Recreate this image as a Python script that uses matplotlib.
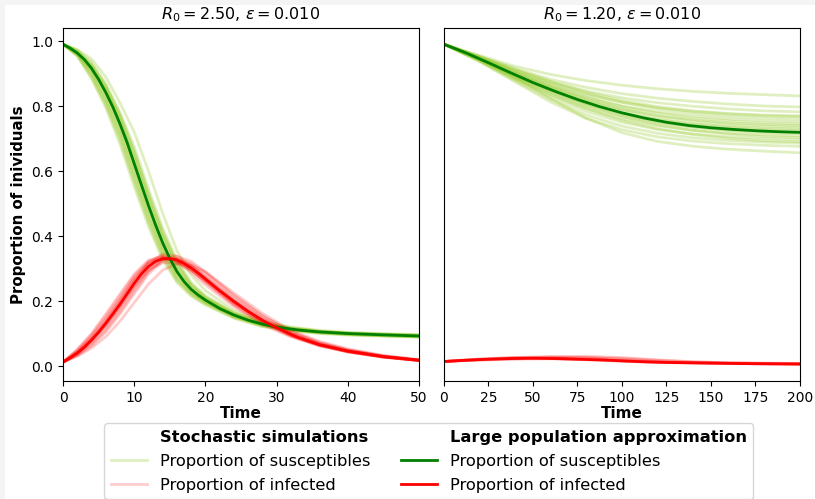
import matplotlib
matplotlib.use("Agg")
import matplotlib.pyplot as plt
from matplotlib.lines import Line2D
from matplotlib.patches import Rectangle

# ---------------- data: left panel (R0 = 2.5) ----------------
t_left_det = [0, 1, 2, 3, 4, 5, 6, 7, 8, 9, 10, 11, 12, 13, 14, 15, 16, 17, 18, 19, 20,
              22, 24, 26, 28, 30, 33, 36, 40, 45, 50]
S_left_det = [0.99, 0.978, 0.963, 0.943, 0.916, 0.882, 0.842, 0.797, 0.745, 0.688, 0.623,
              0.558, 0.494, 0.434, 0.379, 0.331, 0.291, 0.260, 0.236, 0.218, 0.203,
              0.177, 0.157, 0.141, 0.129, 0.120, 0.111, 0.105, 0.100, 0.096, 0.0925]
I_left_det = [0.012, 0.025, 0.040, 0.058, 0.080, 0.104, 0.131, 0.160, 0.190, 0.222, 0.254,
              0.283, 0.306, 0.322, 0.330, 0.331, 0.326, 0.316, 0.302, 0.286, 0.268,
              0.232, 0.199, 0.168, 0.141, 0.118, 0.088, 0.066, 0.046, 0.029, 0.018]

t_left_sim = [0, 2, 4, 6, 8, 10, 12, 14, 16, 18, 20, 24, 28, 32, 36, 40, 45, 50]
S_left_sim_1 = [0.99, 0.972, 0.935, 0.870, 0.780, 0.675, 0.545, 0.425, 0.325, 0.257, 0.216, 0.165, 0.134, 0.118, 0.108, 0.102, 0.098, 0.095]
S_left_sim_2 = [0.99, 0.955, 0.888, 0.803, 0.695, 0.565, 0.440, 0.335, 0.262, 0.219, 0.191, 0.149, 0.123, 0.110, 0.102, 0.097, 0.093, 0.090]
S_left_sim_3 = [0.99, 0.968, 0.925, 0.857, 0.763, 0.650, 0.520, 0.404, 0.310, 0.247, 0.210, 0.161, 0.131, 0.116, 0.106, 0.101, 0.097, 0.094]
S_left_sim_4 = [0.99, 0.959, 0.903, 0.820, 0.720, 0.592, 0.464, 0.355, 0.275, 0.227, 0.197, 0.153, 0.126, 0.112, 0.103, 0.098, 0.094, 0.091]
S_left_sim_5 = [0.99, 0.957, 0.895, 0.810, 0.705, 0.575, 0.450, 0.343, 0.267, 0.222, 0.194, 0.151, 0.124, 0.111, 0.102, 0.097, 0.093, 0.090]
S_left_sim_6 = [0.99, 0.966, 0.921, 0.850, 0.755, 0.640, 0.510, 0.395, 0.302, 0.242, 0.207, 0.159, 0.130, 0.115, 0.106, 0.100, 0.097, 0.094]
S_left_sim_7 = [0.99, 0.961, 0.909, 0.830, 0.730, 0.603, 0.475, 0.363, 0.282, 0.231, 0.200, 0.155, 0.127, 0.113, 0.104, 0.099, 0.095, 0.092]
S_left_sim_8 = [0.99, 0.974, 0.945, 0.890, 0.810, 0.720, 0.600, 0.470, 0.355, 0.280, 0.232, 0.172, 0.137, 0.120, 0.110, 0.104, 0.100, 0.097]
S_left_sim_9 = [0.99, 0.963, 0.916, 0.842, 0.745, 0.623, 0.494, 0.379, 0.291, 0.236, 0.203, 0.157, 0.129, 0.114, 0.105, 0.100, 0.096, 0.093]
S_left_sim_10 = [0.99, 0.954, 0.885, 0.795, 0.683, 0.552, 0.430, 0.327, 0.257, 0.215, 0.188, 0.147, 0.121, 0.108, 0.100, 0.095, 0.092, 0.088]
S_left_sim_11 = [0.99, 0.970, 0.930, 0.863, 0.772, 0.662, 0.532, 0.414, 0.318, 0.252, 0.213, 0.163, 0.132, 0.117, 0.107, 0.101, 0.098, 0.095]
S_left_sim_12 = [0.99, 0.958, 0.900, 0.815, 0.712, 0.583, 0.457, 0.350, 0.271, 0.224, 0.195, 0.152, 0.125, 0.111, 0.103, 0.098, 0.094, 0.091]
S_left_sim_13 = [0.99, 0.960, 0.911, 0.833, 0.734, 0.610, 0.481, 0.368, 0.284, 0.232, 0.200, 0.155, 0.128, 0.113, 0.104, 0.099, 0.095, 0.092]
S_left_sim_14 = [0.99, 0.964, 0.919, 0.850, 0.756, 0.636, 0.507, 0.390, 0.298, 0.240, 0.206, 0.159, 0.130, 0.115, 0.106, 0.101, 0.097, 0.094]
S_left_sim_15 = [0.99, 0.967, 0.926, 0.862, 0.775, 0.660, 0.530, 0.410, 0.313, 0.250, 0.211, 0.162, 0.132, 0.116, 0.107, 0.101, 0.097, 0.094]

I_left_sim_1 = [0.012, 0.052, 0.100, 0.160, 0.222, 0.283, 0.326, 0.337, 0.320, 0.288, 0.250, 0.183, 0.128, 0.090, 0.062, 0.043, 0.027, 0.017]
I_left_sim_2 = [0.012, 0.032, 0.062, 0.104, 0.160, 0.222, 0.283, 0.322, 0.331, 0.316, 0.286, 0.215, 0.154, 0.105, 0.072, 0.050, 0.031, 0.019]
I_left_sim_3 = [0.012, 0.046, 0.090, 0.145, 0.206, 0.270, 0.316, 0.333, 0.322, 0.295, 0.260, 0.190, 0.135, 0.094, 0.064, 0.044, 0.028, 0.017]
I_left_sim_4 = [0.012, 0.036, 0.071, 0.117, 0.175, 0.238, 0.295, 0.327, 0.330, 0.310, 0.277, 0.207, 0.147, 0.101, 0.069, 0.048, 0.030, 0.018]
I_left_sim_5 = [0.012, 0.030, 0.055, 0.090, 0.138, 0.195, 0.252, 0.295, 0.315, 0.310, 0.290, 0.225, 0.162, 0.110, 0.076, 0.053, 0.033, 0.020]
I_left_sim_6 = [0.012, 0.041, 0.082, 0.134, 0.195, 0.262, 0.318, 0.345, 0.338, 0.310, 0.272, 0.200, 0.142, 0.098, 0.067, 0.046, 0.029, 0.018]
I_left_sim_7 = [0.012, 0.039, 0.077, 0.126, 0.184, 0.245, 0.295, 0.318, 0.316, 0.295, 0.263, 0.196, 0.139, 0.096, 0.065, 0.045, 0.028, 0.017]
I_left_sim_8 = [0.012, 0.049, 0.096, 0.153, 0.215, 0.278, 0.322, 0.340, 0.325, 0.295, 0.258, 0.188, 0.132, 0.092, 0.063, 0.044, 0.027, 0.017]
I_left_sim_9 = [0.012, 0.034, 0.066, 0.110, 0.167, 0.230, 0.290, 0.328, 0.338, 0.322, 0.290, 0.218, 0.155, 0.106, 0.072, 0.050, 0.031, 0.019]
I_left_sim_10 = [0.012, 0.042, 0.083, 0.136, 0.198, 0.262, 0.312, 0.333, 0.326, 0.300, 0.265, 0.196, 0.139, 0.096, 0.065, 0.045, 0.028, 0.017]
I_left_sim_11 = [0.012, 0.038, 0.076, 0.124, 0.182, 0.246, 0.300, 0.328, 0.329, 0.307, 0.274, 0.204, 0.145, 0.100, 0.068, 0.047, 0.029, 0.018]
I_left_sim_12 = [0.012, 0.044, 0.088, 0.142, 0.204, 0.270, 0.318, 0.336, 0.327, 0.300, 0.263, 0.193, 0.136, 0.094, 0.064, 0.044, 0.028, 0.017]

# ---------------- data: right panel (R0 = 1.2) ----------------
t_right_det = [0, 12.5, 25, 37.5, 50, 62.5, 75, 87.5, 100, 112.5, 125, 137.5, 150,
               162.5, 175, 187.5, 200]
S_right_det = [0.99, 0.963, 0.933, 0.902, 0.872, 0.845, 0.820, 0.798, 0.779, 0.763, 0.750,
               0.740, 0.733, 0.728, 0.724, 0.721, 0.719]
I_right_det = [0.014, 0.018, 0.021, 0.023, 0.024, 0.023, 0.021, 0.019, 0.016, 0.013, 0.011,
               0.010, 0.009, 0.008, 0.007, 0.0065, 0.006]

t_right_sim = [0, 20, 40, 60, 80, 100, 120, 140, 160, 180, 200]
S_right_sim_1 = [0.99, 0.955, 0.922, 0.897, 0.878, 0.864, 0.853, 0.845, 0.839, 0.835, 0.831]
S_right_sim_2 = [0.99, 0.952, 0.915, 0.882, 0.857, 0.838, 0.824, 0.814, 0.806, 0.800, 0.797]
S_right_sim_3 = [0.99, 0.950, 0.910, 0.874, 0.846, 0.825, 0.810, 0.799, 0.791, 0.785, 0.782]
S_right_sim_4 = [0.99, 0.953, 0.913, 0.876, 0.843, 0.817, 0.798, 0.785, 0.777, 0.772, 0.770]
S_right_sim_5 = [0.99, 0.948, 0.905, 0.866, 0.835, 0.812, 0.795, 0.783, 0.775, 0.770, 0.767]
S_right_sim_6 = [0.99, 0.951, 0.909, 0.871, 0.838, 0.811, 0.791, 0.777, 0.768, 0.763, 0.760]
S_right_sim_7 = [0.99, 0.947, 0.902, 0.860, 0.826, 0.800, 0.782, 0.769, 0.760, 0.755, 0.752]
S_right_sim_8 = [0.99, 0.949, 0.904, 0.863, 0.828, 0.799, 0.778, 0.763, 0.754, 0.748, 0.745]
S_right_sim_9 = [0.99, 0.946, 0.898, 0.855, 0.818, 0.790, 0.770, 0.757, 0.748, 0.743, 0.740]
S_right_sim_10 = [0.99, 0.948, 0.901, 0.858, 0.821, 0.791, 0.769, 0.754, 0.744, 0.738, 0.735]
S_right_sim_11 = [0.99, 0.944, 0.893, 0.847, 0.808, 0.778, 0.758, 0.745, 0.737, 0.732, 0.729]
S_right_sim_12 = [0.99, 0.946, 0.897, 0.853, 0.815, 0.784, 0.760, 0.745, 0.735, 0.728, 0.725]
S_right_sim_13 = [0.99, 0.943, 0.890, 0.842, 0.800, 0.769, 0.748, 0.735, 0.726, 0.721, 0.718]
S_right_sim_14 = [0.99, 0.944, 0.893, 0.848, 0.808, 0.776, 0.751, 0.735, 0.725, 0.718, 0.715]
S_right_sim_15 = [0.99, 0.941, 0.885, 0.835, 0.792, 0.760, 0.739, 0.725, 0.716, 0.711, 0.708]
S_right_sim_16 = [0.99, 0.943, 0.890, 0.843, 0.802, 0.768, 0.742, 0.725, 0.714, 0.706, 0.703]
S_right_sim_17 = [0.99, 0.940, 0.882, 0.828, 0.783, 0.750, 0.728, 0.714, 0.705, 0.700, 0.697]
S_right_sim_18 = [0.99, 0.940, 0.885, 0.835, 0.792, 0.756, 0.730, 0.712, 0.701, 0.693, 0.690]
S_right_sim_19 = [0.99, 0.938, 0.878, 0.820, 0.772, 0.738, 0.716, 0.702, 0.694, 0.689, 0.686]
S_right_sim_20 = [0.99, 0.936, 0.874, 0.812, 0.762, 0.727, 0.705, 0.692, 0.684, 0.679, 0.676]
S_right_sim_21 = [0.99, 0.944, 0.888, 0.823, 0.762, 0.718, 0.691, 0.676, 0.667, 0.661, 0.656]

I_right_sim_1 = [0.014, 0.021, 0.026, 0.029, 0.027, 0.021, 0.015, 0.011, 0.009, 0.008, 0.007]
I_right_sim_2 = [0.014, 0.019, 0.022, 0.025, 0.026, 0.024, 0.018, 0.013, 0.010, 0.008, 0.007]
I_right_sim_3 = [0.014, 0.020, 0.024, 0.023, 0.019, 0.014, 0.011, 0.009, 0.008, 0.007, 0.006]
I_right_sim_4 = [0.014, 0.022, 0.027, 0.027, 0.023, 0.017, 0.012, 0.010, 0.009, 0.008, 0.007]
I_right_sim_5 = [0.014, 0.018, 0.021, 0.022, 0.020, 0.016, 0.013, 0.010, 0.008, 0.007, 0.006]
I_right_sim_6 = [0.014, 0.020, 0.025, 0.028, 0.030, 0.026, 0.019, 0.013, 0.010, 0.009, 0.008]

titles = [r"$R_0 = 2.50$, $\varepsilon = 0.010$", r"$R_0 = 1.20$, $\varepsilon = 0.010$"]

S_left_sims = [S_left_sim_1, S_left_sim_2, S_left_sim_3, S_left_sim_4, S_left_sim_5,
               S_left_sim_6, S_left_sim_7, S_left_sim_8, S_left_sim_9, S_left_sim_10,
               S_left_sim_11, S_left_sim_12, S_left_sim_13, S_left_sim_14, S_left_sim_15]
I_left_sims = [I_left_sim_1, I_left_sim_2, I_left_sim_3, I_left_sim_4, I_left_sim_5,
               I_left_sim_6, I_left_sim_7, I_left_sim_8, I_left_sim_9, I_left_sim_10,
               I_left_sim_11, I_left_sim_12]
S_right_sims = [S_right_sim_1, S_right_sim_2, S_right_sim_3, S_right_sim_4, S_right_sim_5,
                S_right_sim_6, S_right_sim_7, S_right_sim_8, S_right_sim_9, S_right_sim_10,
                S_right_sim_11, S_right_sim_12, S_right_sim_13, S_right_sim_14,
                S_right_sim_15, S_right_sim_16, S_right_sim_17, S_right_sim_18,
                S_right_sim_19, S_right_sim_20, S_right_sim_21]
I_right_sims = [I_right_sim_1, I_right_sim_2, I_right_sim_3, I_right_sim_4,
                I_right_sim_5, I_right_sim_6]

# ---------------- figure ----------------
fig = plt.figure(figsize=(8.15, 4.99), dpi=100, facecolor="white")
# light grey margin strip at top and left of the screenshot
fig.patches.append(Rectangle((0, 1 - 5 / 499), 1, 5 / 499, transform=fig.transFigure,
                             facecolor="#f4f4f4", edgecolor="none", zorder=-10))
fig.patches.append(Rectangle((0, 0), 5 / 815, 1, transform=fig.transFigure,
                             facecolor="#f4f4f4", edgecolor="none", zorder=-10))

axL = fig.add_axes([63 / 815, 1 - 381 / 499, 356 / 815, 353 / 499])
axR = fig.add_axes([444 / 815, 1 - 381 / 499, 356 / 815, 353 / 499], sharey=axL)

sim_S_col = "yellowgreen"
sim_I_col = "red"
sim_S_alpha = 0.3
sim_I_alpha = 0.2
lw_sim = 2.0
lw_det = 2.0

for s in S_left_sims:
    axL.plot(t_left_sim, s, color=sim_S_col, alpha=sim_S_alpha, lw=lw_sim)
for i in I_left_sims:
    axL.plot(t_left_sim, i, color=sim_I_col, alpha=sim_I_alpha, lw=lw_sim)
axL.plot(t_left_det, S_left_det, color="green", lw=lw_det)
axL.plot(t_left_det, I_left_det, color="red", lw=lw_det)

for s in S_right_sims:
    axR.plot(t_right_sim, s, color=sim_S_col, alpha=sim_S_alpha, lw=lw_sim)
for i in I_right_sims:
    axR.plot(t_right_sim, i, color=sim_I_col, alpha=sim_I_alpha, lw=lw_sim)
axR.plot(t_right_det, S_right_det, color="green", lw=lw_det)
axR.plot(t_right_det, I_right_det, color="red", lw=lw_det)

axL.set_xlim(0, 50)
axR.set_xlim(0, 200)
axL.set_ylim(-0.046, 1.04)
axL.set_yticks([0.0, 0.2, 0.4, 0.6, 0.8, 1.0])
axR.set_xticks([0, 25, 50, 75, 100, 125, 150, 175, 200])
axR.tick_params(axis="y", left=False, labelleft=False)

for ax, title in zip([axL, axR], titles):
    ax.set_title(title, fontsize=11.5)
    ax.set_xlabel("Time", fontsize=11, fontweight="bold", labelpad=1)
    ax.tick_params(labelsize=10)
axL.set_ylabel("Proportion of inividuals", fontsize=10.8, fontweight="bold")

handles = [
    Line2D([], [], color="none"),
    Line2D([], [], color=sim_S_col, alpha=sim_S_alpha, lw=lw_sim),
    Line2D([], [], color=sim_I_col, alpha=sim_I_alpha, lw=lw_sim),
    Line2D([], [], color="none"),
    Line2D([], [], color="green", lw=lw_det),
    Line2D([], [], color="red", lw=lw_det),
]
labels = ["Stochastic simulations", "Proportion of susceptibles", "Proportion of infected",
          "Large population approximation", "Proportion of susceptibles",
          "Proportion of infected"]
leg = fig.legend(handles, labels, ncol=2, loc="upper center",
                 bbox_to_anchor=(0.526, 0.168), fontsize=11.7,
                 handlelength=2.2, handletextpad=0.8, columnspacing=1.9,
                 labelspacing=0.55)
for k in (0, 3):
    leg.get_texts()[k].set_fontweight("bold")

fig.savefig("out.png", dpi=100, facecolor=fig.get_facecolor())
